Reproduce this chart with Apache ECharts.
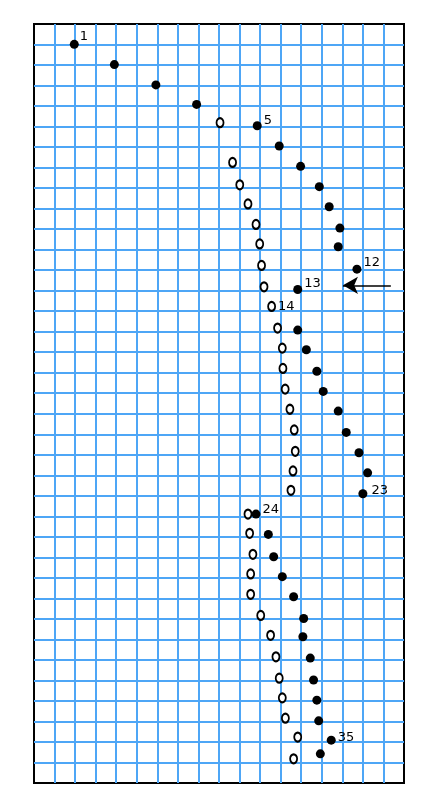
<!DOCTYPE html>
<html>
<head>
<meta charset="utf-8">
<script src="https://cdn.jsdelivr.net/npm/echarts@6/dist/echarts.min.js"></script>
<style>
html,body{margin:0;padding:0;background:#fff;}
#chart{width:423px;height:800px;}
</style>
</head>
<body>
<div id="chart"></div>
<script>
// Filled dots: row number, x (grid columns), y (grid rows from top)
var filledRows = [1,2,3,4,5,6,7,8,9,10,11,12,13,15,16,17,18,19,20,21,22,23,24,25,26,27,28,29,30,31,32,33,34,35,36];
var filledX = [1.96,3.91,5.93,7.91,10.86,11.93,12.97,13.88,14.36,14.88,14.80,15.71,12.83,12.83,13.25,13.76,14.07,14.80,15.19,15.81,16.23,16.00,10.80,11.40,11.66,12.08,12.63,13.12,13.08,13.44,13.60,13.76,13.85,14.46,13.93];
var filledY = [0.99,1.98,2.97,3.92,4.96,5.95,6.94,7.93,8.91,9.95,10.86,11.95,12.94,14.92,15.88,16.93,17.91,18.87,19.91,20.90,21.88,22.90,23.89,24.88,25.97,26.94,27.92,28.98,29.87,30.91,31.98,32.96,33.97,34.91,35.58];
// Open circles
var openRows = [5,7,8,9,10,11,12,13,14,15,16,17,18,19,20,21,22,23,24,25,26,27,28,29,30,31,32,33,34,35,36];
var openX = [9.05,9.66,10.01,10.41,10.80,10.98,11.07,11.19,11.56,11.85,12.08,12.11,12.22,12.45,12.66,12.71,12.60,12.50,10.41,10.49,10.65,10.54,10.54,11.03,11.51,11.77,11.93,12.08,12.23,12.83,12.63];
var openY = [4.81,6.75,7.84,8.77,9.77,10.72,11.77,12.81,13.77,14.82,15.80,16.79,17.80,18.78,19.79,20.83,21.79,22.73,23.89,24.83,25.85,26.81,27.80,28.83,29.80,30.85,31.89,32.85,33.84,34.76,35.82];
// Numbered points
var filledLabeled = [1,5,12,13,23,24,35];
var openLabeled = [14];
// Arrow annotation (grid units)
var arrowFrom = [17.36,12.74];
var arrowTo = [15.03,12.74];

var labelOffsets = {1:[-1,-8],5:[0,-5],12:[0,-7],13:[0,-6],23:[2,-3],24:[0,-4],35:[0,-3],14:[0,0]};

function build(rows, xs, ys, labeled){
  return rows.map(function(r,i){
    var d = {value:[xs[i], ys[i]], row:r};
    if (labeled.indexOf(r) >= 0) {
      d.label = {show:true, formatter:String(r), position:'right', distance:2, offset:labelOffsets[r],
        color:'#000', fontSize:13, fontFamily:'DejaVu Sans'};
    }
    return d;
  });
}

var chart = echarts.init(document.getElementById('chart'), null, {renderer:'canvas'});
var gridColor = '#4ea6f6';
var split = {show:true, showMinLine:false, showMaxLine:false, lineStyle:{color:gridColor, width:2}};
chart.setOption({
  animation:false,
  backgroundColor:'#fff',
  grid:{left:34, top:24, width:370, height:759, show:true, borderColor:'#000', borderWidth:2, backgroundColor:'#fff'},
  xAxis:{type:'value', min:0, max:18, interval:1,
    axisLine:{show:false}, axisTick:{show:false}, axisLabel:{show:false}, splitLine:split},
  yAxis:{type:'value', min:0, max:37, interval:1, inverse:true,
    axisLine:{show:false}, axisTick:{show:false}, axisLabel:{show:false}, splitLine:split},
  series:[
    {type:'scatter', name:'open', data:build(openRows, openX, openY, openLabeled),
      symbol:'circle', symbolSize:[7,9],
      itemStyle:{color:'#fff', borderColor:'#000', borderWidth:2, opacity:1}, z:3},
    {type:'scatter', name:'filled', data:build(filledRows, filledX, filledY, filledLabeled),
      symbol:'circle', symbolSize:9,
      itemStyle:{color:'#000', opacity:1}, z:4,
      markLine:{silent:true, animation:false, symbol:['none','arrow'], symbolSize:[13,15],
        label:{show:false},
        lineStyle:{color:'#000', width:1.5, type:'solid', opacity:1},
        data:[[{coord:arrowFrom},{coord:arrowTo}]]}}
  ]
});
</script>
</body>
</html>
